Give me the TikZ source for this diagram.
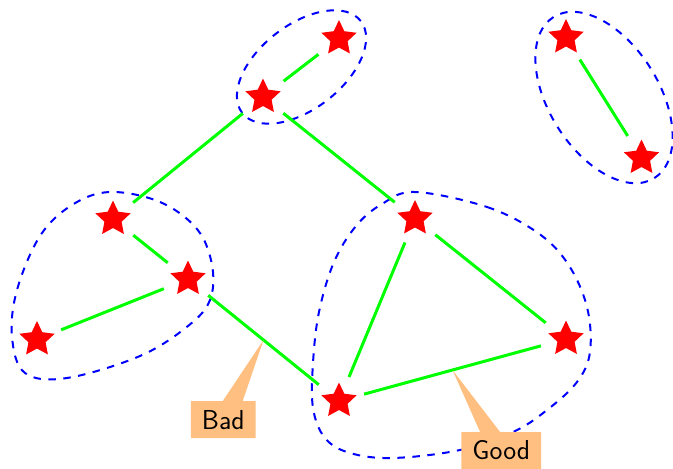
\documentclass[tikz,border=0pt]{standalone}
\usetikzlibrary{shapes.geometric,shapes.callouts,calc}
\begin{document}
\begin{tikzpicture}[x=1pt,y=-1pt,
  vertex/.style={star,star points=5,star point ratio=2.05,fill=red,draw=none,
    inner sep=0pt,minimum size=37pt},
  link/.style={draw={rgb,255:red,0;green,255;blue,0},line width=3pt,
    shorten <=26pt,shorten >=26pt},
  group/.style={draw=blue,line width=2pt,dash pattern=on 7.5pt off 7.5pt},
  groupell/.style={group,ellipse,inner sep=0pt},
  note/.style={rectangle callout,fill=orange!50,draw=none,inner xsep=11pt,
    minimum height=37pt,callout pointer width=20pt,
    font=\sffamily\fontsize{27.4}{32}\selectfont}]
\useasboundingbox (0,0) rectangle (673,469);

% vertices
\node[vertex] (A) at (339,38.5) {};
\node[vertex] (B) at (263,97) {};
\node[vertex] (C) at (566,37.5) {};
\node[vertex] (D) at (641.5,158) {};
\node[vertex] (E) at (113,219) {};
\node[vertex] (F) at (188,279) {};
\node[vertex] (G) at (37,339.5) {};
\node[vertex] (H) at (415,218.5) {};
\node[vertex] (I) at (566,339) {};
\node[vertex] (J) at (339,401) {};

% groups
\node[groupell,rotate=37.8,minimum width=150pt,minimum height=84pt] (gAB) at (301.5,67) {};
\node[groupell,rotate=-58,minimum width=190pt,minimum height=110pt] (gCD) at (604,97.5) {};
\draw[group] plot[smooth cycle,tension=0.6] coordinates {
  (110,192) (160,202) (197,229) (212,265) (210,300) (188,326) (140,356)
  (67,378) (25,373) (12,337) (17,290) (40,236) (72,205)};
\draw[group] plot[smooth cycle,tension=0.6] coordinates {
  (415,192) (487,207) (538,233) (568,264) (587,307) (590,352) (577,382)
  (547,410) (513,432) (460,450) (393,458) (350,453) (325,438) (313,408)
  (313,363) (319,312) (334,262) (356,226) (382,204)};

% edges
\draw[link] (A.center) -- (B.center);
\draw[link] (B.center) -- (E.center);
\draw[link] (B.center) -- (H.center);
\draw[link] (E.center) -- (F.center);
\draw[link] (F.center) -- (G.center);
\draw[link] (F.center) -- (J.center);
\draw[link] (H.center) -- (J.center);
\draw[link] (H.center) -- (I.center);
\draw[link] (J.center) -- (I.center);
\draw[link] (C.center) -- (D.center);

% annotations
\coordinate (badtip) at ($(F)!0.5!(J)$);
\coordinate (goodtip) at ($(J)!0.5!(I)$);
\node[note,callout absolute pointer=(badtip)] (bad) at (223.3,419.7) {Bad};
\node[note,callout absolute pointer=(goodtip)] (good) at (501.3,450.5) {Good};
\end{tikzpicture}
\end{document}
